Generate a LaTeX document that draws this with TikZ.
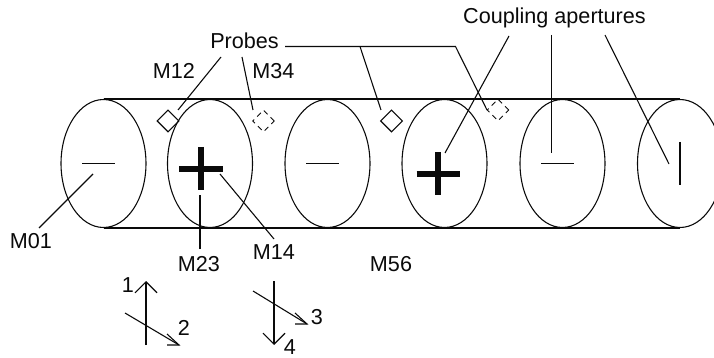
\documentclass[tikz,border=0pt]{standalone}
\usepackage{xcolor}
\usepackage{fontspec}
\setmainfont{Liberation Sans}
\usetikzlibrary{arrows.meta, shapes.geometric, calc}
\definecolor{inkblack}{RGB}{10,10,10}

\begin{document}
\begin{tikzpicture}[x=0.02cm, y=-0.02cm, color=inkblack, line width=0.62pt,
    cavity/.style={ellipse, draw, inner sep=0pt, minimum width=1.7cm, minimum height=2.56cm},
    probe/.style={diamond, draw, inner sep=0pt, minimum width=0.44cm, minimum height=0.44cm},
    probeoff/.style={probe, line width=0.55pt, dash pattern=on 3pt off 2.4pt},
    lbl/.style={inner sep=0pt, font=\fontsize{12.3pt}{14pt}\selectfont},
    slit/.style={line width=0.62pt},
    bigslit/.style={line width=3.8pt},
    mode/.style={-{Straight Barb[length=0.22cm, width=0.44cm, line width=0.62pt]}}
]
\clip (0,0) rectangle (714,358);

% cavities
\node[cavity] (e1) at (103.5,163.5) {};
\node[cavity] (e2) at (210,163.5) {};
\node[cavity] (e3) at (327.5,163.5) {};
\node[cavity] (e4) at (444.5,163.5) {};
\node[cavity] (e5) at (562.5,163.5) {};
\node[cavity] (e6) at (680,163.5) {};
\draw (e1.north) -- (e6.north);
\draw (e1.south) -- (e6.south);

% apertures
\draw[slit] ($(e1)+(-21.5,0)$) -- ($(e1)+(11,0)$);
\draw[slit] ($(e3)+(-21.5,0)$) -- ($(e3)+(11,0)$);
\draw[slit] ($(e5)+(-21.5,0)$) -- ($(e5)+(11,0)$);
\draw[slit] ($(e6)+(0,-21.5)$) -- ($(e6)+(0,21.5)$);
\draw[bigslit] ($(e2)+(-31,5.5)$) -- ($(e2)+(12.5,5.5)$);
\draw[bigslit] ($(e2)+(-9,-16.5)$) -- ($(e2)+(-9,26.5)$);
\draw[bigslit] ($(e4)+(-28,10.5)$) -- ($(e4)+(15,10.5)$);
\draw[bigslit] ($(e4)+(-6.5,-11)$) -- ($(e4)+(-6.5,32)$);

% probes
\node[probe] (d1) at (168,121) {};
\node[probeoff] (d2) at (263.5,121) {};
\node[probe] (d3) at (391.5,121) {};
\node[probeoff] (d4) at (498,110) {};

% labels
\node[lbl] (probes) at (244.5,41) {Probes};
\node[lbl] (coupling) at (554.5,18) {Coupling apertures};
\node[lbl] (m12) at (174,71) {M12};
\node[lbl] (m34) at (273.5,71) {M34};
\node[lbl] (m01) at (31,241) {M01};
\node[lbl] (m23) at (199,264) {M23};
\node[lbl] (m14) at (274,252) {M14};
\node[lbl] (m56) at (391,264) {M56};
\node[lbl] (n1) at (128,285) {1};
\node[lbl] (n2) at (184,328) {2};
\node[lbl] (n3) at (317,317) {3};
\node[lbl] (n4) at (290,347.5) {4};

% leaders
\draw ($(probes)+(-23.5,16)$) -- ($(d1)+(10,-11)$);
\draw ($(probes)+(-2.5,16)$) -- ($(d2)+(-10.5,-11)$);
\draw ($(probes)+(40.5,5.5)$) -- (455.5,46.5) -- ($(d4)+(-11,0)$);
\draw (360,46.5) -- ($(d3)+(-10.5,-11)$);
\draw ($(coupling)+(-45.5,18)$) -- ($(e4)+(0.5,-10.5)$);
\draw ($(coupling)+(-3,17)$) -- ($(e5)+(-11,-10.5)$);
\draw ($(coupling)+(50.5,17)$) -- ($(e6)+(-11,0.5)$);
\draw ($(m01)+(8,-13)$) -- ($(e1)+(-10.5,10.5)$);
\draw ($(m23)+(1,-15)$) -- ($(e2)+(-10,31.5)$);
\draw ($(m14)+(0,-13)$) -- ($(e2)+(10,10.5)$);

% mode arrows
\coordinate (a1s) at (146,345);
\coordinate (a1e) at (146,281);
\coordinate (a2s) at (125,313);
\coordinate (a2e) at (179,345);
\coordinate (a3s) at (253,291);
\coordinate (a3e) at (307,324);
\coordinate (a4s) at (274,281);
\coordinate (a4e) at (274,345);
\draw[mode] (a1s) -- (a1e);
\draw (a2s) -- (a2e);
\draw ($(a2e)+(-12,0)$) -- (a2e) -- ($(a2e)+(-12,-11)$);
\draw (a3s) -- (a3e);
\draw ($(a3e)+(-12,0)$) -- (a3e) -- ($(a3e)+(-12,-11)$);
\draw[mode] (a4s) -- (a4e);
\end{tikzpicture}
\end{document}
